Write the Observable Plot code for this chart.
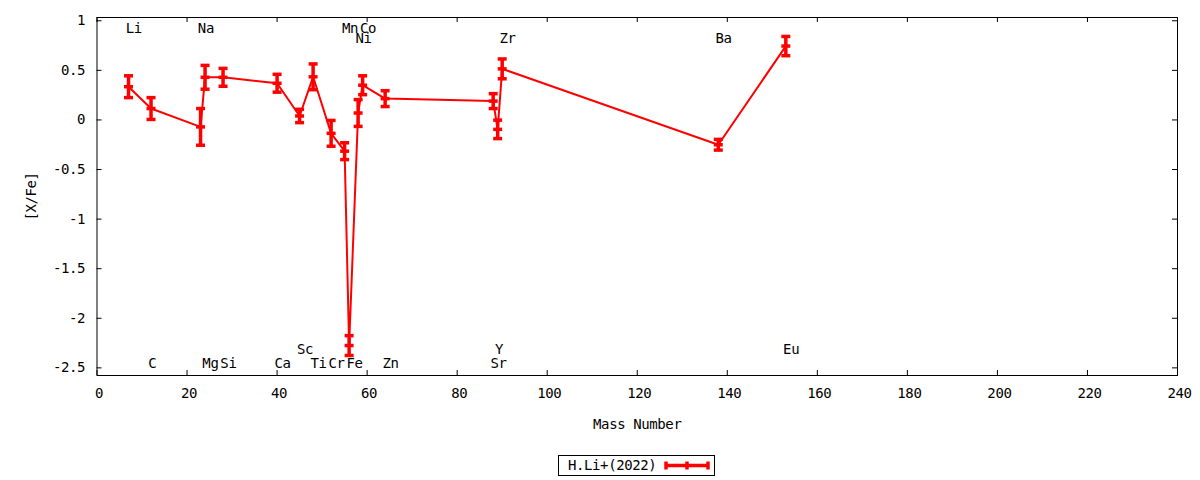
<!DOCTYPE html>
<html>
<head>
<meta charset="utf-8">
<script src="https://cdn.jsdelivr.net/npm/d3@7"></script>
<script src="https://cdn.jsdelivr.net/npm/@observablehq/plot@0.6"></script>
<style>
  body { margin: 0; background: #fff; font-family: "DejaVu Sans Mono", monospace; }
  #wrap { position: relative; width: 1200px; height: 480px; }
  #chart svg text { letter-spacing: -0.4px; }
  #legend { position: absolute; left: 558px; top: 455px; width: 155px; height: 19px;
    border: 1px solid #000; font-size: 14px; color: #000; letter-spacing: -0.4px; }
  #legend span { position: absolute; left: 9px; top: 1px; }
  #legend svg { position: absolute; left: 104px; top: 0px; }
</style>
</head>
<body>
<div id="wrap"><div id="chart"></div><div id="legend"></div></div>
<script>
const elements = ["Li","C","Na","Mg","Si","Ca","Sc","Ti","Cr","Mn","Fe","Ni","Co","Zn","Sr","Y","Zr","Ba","Eu"];
const masses   = [7, 12, 23, 24, 28, 40, 45, 48, 52, 55, 56, 58, 59, 64, 88, 89, 90, 138, 153];
const values   = [0.335, 0.115, -0.07, 0.43, 0.43, 0.37, 0.04, 0.435, -0.135, -0.315, -2.275, 0.07, 0.35, 0.215, 0.19, -0.095, 0.515, -0.25, 0.745];
const errors   = [0.11, 0.11, 0.185, 0.12, 0.09, 0.09, 0.067, 0.13, 0.13, 0.085, 0.10, 0.135, 0.095, 0.08, 0.075, 0.093, 0.10, 0.054, 0.097];
const labelY   = [0.925, -2.46, 0.925, -2.46, -2.46, -2.46, -2.32, -2.46, -2.46, 0.925, -2.46, 0.824, 0.925, -2.46, -2.46, -2.32, 0.824, 0.824, -2.32];
const xTicks = [0, 20, 40, 60, 80, 100, 120, 140, 160, 180, 200, 220, 240];
const yTicks = [-2.5, -2, -1.5, -1, -0.5, 0, 0.5, 1];
const seriesName = "H.Li+(2022)";

const data = elements.map((el, i) => ({el, m: masses[i], v: values[i], e: errors[i], ly: labelY[i]}));

const W = 1200, H = 440, mL = 96.5, mR = 23, mT = 17, mB = 65;
const plotW = W - mL - mR, plotH = H - mT - mB;
const red = "#ff0000";
const tl = 5;

const chart = Plot.plot({
  width: W, height: H,
  marginLeft: mL, marginRight: mR, marginTop: mT, marginBottom: mB,
  style: {fontFamily: "DejaVu Sans Mono", fontSize: "14px", color: "#000", background: "#fff"},
  x: {domain: [0, 240]},
  y: {domain: [-2.577, 1.033]},
  marks: [
    Plot.frame({stroke: "#000", strokeWidth: 1}),
    Plot.tickX(xTicks, {x: d => d, insetTop: plotH - tl, stroke: "#000"}),
    Plot.tickX(xTicks, {x: d => d, insetBottom: plotH - tl, stroke: "#000"}),
    Plot.tickY(yTicks, {y: d => d, insetRight: plotW - tl, stroke: "#000"}),
    Plot.tickY(yTicks, {y: d => d, insetLeft: plotW - tl, stroke: "#000"}),
    Plot.axisX({ticks: xTicks, tickSize: 0, tickPadding: 13, dx: 2, tickFormat: d => String(d),
      label: null}),
    Plot.axisX({ticks: [], tickSize: 0, label: "Mass Number", labelAnchor: "center", labelArrow: "none", labelOffset: 53}),
    Plot.axisY({ticks: yTicks, tickSize: 0, tickPadding: 12, tickFormat: d => String(d),
      label: "[X/Fe]", labelAnchor: "center", labelArrow: "none", labelOffset: 71}),
    Plot.text(data, {x: "m", y: "ly", text: "el", textAnchor: "start", dx: -2.7, fill: "#000"}),
    Plot.line(data, {x: "m", y: "v", stroke: red, strokeWidth: 2}),
    Plot.ruleX(data, {x: "m", y1: d => d.v - d.e, y2: d => d.v + d.e, stroke: red, strokeWidth: 3.5}),
    Plot.link(data, {x1: d => d.m - 1, x2: d => d.m + 1, y1: d => d.v + d.e, y2: d => d.v + d.e, stroke: red, strokeWidth: 3.5}),
    Plot.link(data, {x1: d => d.m - 1, x2: d => d.m + 1, y1: d => d.v - d.e, y2: d => d.v - d.e, stroke: red, strokeWidth: 3.5}),
    Plot.link(data, {x1: d => d.m - 1, x2: d => d.m + 1, y1: "v", y2: "v", stroke: red, strokeWidth: 3.5})
  ]
});
document.getElementById("chart").appendChild(chart);

const legend = document.getElementById("legend");
legend.innerHTML = `<span>${seriesName}</span>
<svg width="48" height="19">
  <line x1="2" x2="46" y1="9.5" y2="9.5" stroke="${red}" stroke-width="3.5"/>
  <line x1="3" x2="3" y1="5.5" y2="13.5" stroke="${red}" stroke-width="3.5"/>
  <line x1="45" x2="45" y1="5.5" y2="13.5" stroke="${red}" stroke-width="3.5"/>
  <line x1="24" x2="24" y1="5.5" y2="13.5" stroke="${red}" stroke-width="3.5"/>
</svg>`;
</script>
</body>
</html>
